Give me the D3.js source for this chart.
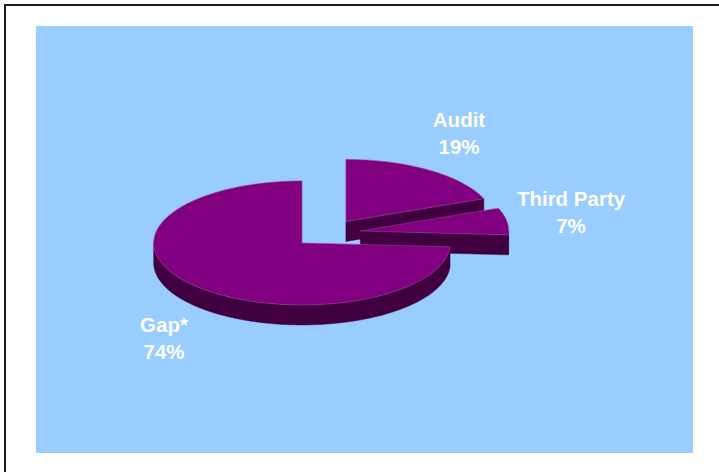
<!DOCTYPE html>
<html>
<head>
<meta charset="utf-8">
<script src="https://cdn.jsdelivr.net/npm/d3@7"></script>
<style>
  html, body { margin: 0; padding: 0; background: #fff; }
  svg { display: block; }
</style>
</head>
<body>
<svg id="chart" width="719" height="472"></svg>
<script>
// ---- data ----
const categories = ["Audit", "Third Party", "Gap*"];
const values = [19, 7, 74];
const percentLabels = ["19%", "7%", "74%"];

// ---- layout ----
const W = 719, H = 472;
const svg = d3.select("#chart");

svg.append("rect").attr("x", 0).attr("y", 0).attr("width", W).attr("height", H).attr("fill", "#fff");
// outer frame (right/bottom edges fall outside the picture)
svg.append("rect").attr("x", 5).attr("y", 5).attr("width", W + 20).attr("height", H + 20)
  .attr("fill", "none").attr("stroke", "#1a1a1a").attr("stroke-width", 2);
// plot area
svg.append("rect").attr("x", 36).attr("y", 26).attr("width", 657).attr("height", 427).attr("fill", "#99CCFF");

const cx = 326.8, cy = 233.2;   // pie centre (top face)
const rx = 148.3, ry = 62;      // ellipse radii of top face
const depth = 20;               // thickness
const explode = 34;             // explosion distance (in rx units)
const topColor = "#800080", sideColor = "#400040", edgeColor = "#9b3f9b";

const pie = d3.pie().sort(null).startAngle(0).endAngle(2 * Math.PI)(values);

function pt(ox, oy, a, dz) {
  return [ox + rx * Math.sin(a), oy - ry * Math.cos(a) + (dz || 0)];
}
function arcPts(ox, oy, a0, a1, dz) {
  const n = Math.max(2, Math.ceil(Math.abs(a1 - a0) / 0.02));
  const out = [];
  for (let i = 0; i <= n; i++) out.push(pt(ox, oy, a0 + (a1 - a0) * i / n, dz));
  return out;
}
const line = d3.line();

const slices = pie.map((d, i) => {
  const mid = (d.startAngle + d.endAngle) / 2;
  const ox = cx + explode * Math.sin(mid);
  const oy = cy - explode * Math.cos(mid) * (ry / rx);
  return { d, i, ox, oy };
});

// draw back-to-front: by centre y
const order = slices.slice().sort((a, b) => a.oy - b.oy);
const g = svg.append("g");

order.forEach(s => {
  const { d, ox, oy } = s;
  const a0 = d.startAngle, a1 = d.endAngle;
  // end radial wall (visible if sin(a1) > 0)
  if (Math.sin(a1) > 1e-6) {
    const e = pt(ox, oy, a1);
    g.append("path").attr("d", line([[ox, oy], e, [e[0], e[1] + depth], [ox, oy + depth]]) + "Z")
      .attr("fill", sideColor).attr("stroke", sideColor).attr("stroke-width", 0.5);
  }
  // start radial wall (visible if sin(a0) < 0)
  if (Math.sin(a0) < -1e-6) {
    const e = pt(ox, oy, a0);
    g.append("path").attr("d", line([[ox, oy], e, [e[0], e[1] + depth], [ox, oy + depth]]) + "Z")
      .attr("fill", sideColor).attr("stroke", sideColor).attr("stroke-width", 0.5);
  }
  // outer curved wall, front half only (PI/2 .. 3PI/2)
  const f0 = Math.max(a0, Math.PI / 2), f1 = Math.min(a1, 3 * Math.PI / 2);
  if (f1 > f0) {
    const topArc = arcPts(ox, oy, f0, f1, 0);
    const botArc = arcPts(ox, oy, f1, f0, depth);
    g.append("path").attr("d", line(topArc.concat(botArc)) + "Z")
      .attr("fill", sideColor).attr("stroke", sideColor).attr("stroke-width", 0.5);
  }
  // top face
  const topPts = [[ox, oy]].concat(arcPts(ox, oy, a0, a1, 0));
  g.append("path").attr("d", line(topPts) + "Z")
    .attr("fill", topColor).attr("stroke", edgeColor).attr("stroke-width", 0.6);
});

// ---- labels ----
const labelAnchors = [[459, 127], [571, 206], [164, 332]];
const lg = svg.append("g")
  .attr("font-family", "Liberation Sans, Arial, Helvetica, sans-serif")
  .attr("font-weight", "bold").attr("font-size", "20.5px")
  .attr("fill", "#fff").attr("text-anchor", "middle");
categories.forEach((c, i) => {
  const t = lg.append("text").attr("x", labelAnchors[i][0]).attr("y", labelAnchors[i][1]);
  t.append("tspan").attr("x", labelAnchors[i][0]).text(c);
  t.append("tspan").attr("x", labelAnchors[i][0]).attr("dy", 27).text(percentLabels[i]);
});
</script>
</body>
</html>
